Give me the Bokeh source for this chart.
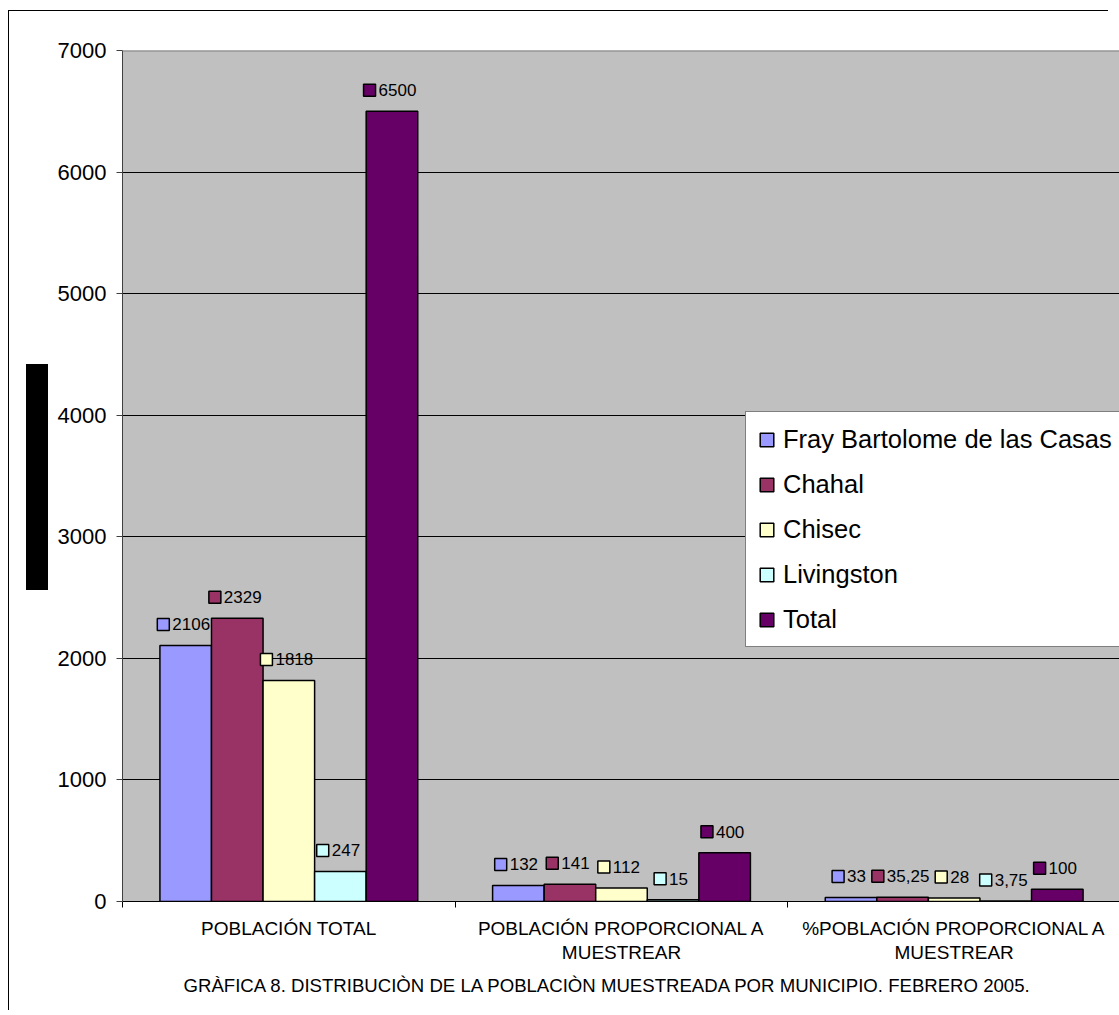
from bokeh.plotting import figure
from bokeh.models import (Range1d, FixedTicker, Legend, LegendItem, Title,
                          Span, ColumnDataSource, InlineStyleSheet)
from bokeh.core.properties import value
from bokeh.embed import file_html
from bokeh.resources import INLINE

# ---------------- data ----------------
categories = ["POBLACIÓN TOTAL",
              "POBLACIÓN PROPORCIONAL A\nMUESTREAR",
              "%POBLACIÓN PROPORCIONAL A\nMUESTREAR"]
series_names = ["Fray Bartolome de las Casas", "Chahal", "Chisec", "Livingston", "Total"]
series_colors = ["#9999FF", "#993366", "#FFFFCC", "#CCFFFF", "#660066"]
fray = [2106, 132, 33]
chahal = [2329, 141, 35.25]
chisec = [1818, 112, 28]
livingston = [247, 15, 3.75]
total = [6500, 400, 100]
y_ticks = [0, 1000, 2000, 3000, 4000, 5000, 6000, 7000]
caption = "GRÀFICA 8. DISTRIBUCIÒN DE LA POBLACIÒN MUESTREADA POR MUNICIPIO. FEBRERO 2005."

series_values = [fray, chahal, chisec, livingston, total]

# ---------------- layout ----------------
W, H = 1119, 1015
LEFT, TOP, BOTTOM = 122, 50, 114
frame_w = W - LEFT
frame_h = H - TOP - BOTTOM
x_end = 2.997
y_end = 7000
px_x = x_end / frame_w
px_y = y_end / frame_h
BAR_W = 0.155
FONT = "Liberation Sans"

p = figure(width=W, height=H, x_range=Range1d(0, x_end), y_range=Range1d(0, y_end),
           output_backend="svg", toolbar_location=None,
           min_border_left=LEFT, min_border_top=TOP, min_border_bottom=BOTTOM, min_border_right=0,
           background_fill_color="#C0C0C0", border_fill_color="white", outline_line_color=None)

# grid
p.xgrid.visible = False
p.ygrid.ticker = FixedTicker(ticks=y_ticks)
p.ygrid.grid_line_color = "black"
p.ygrid.grid_line_width = 1

# y axis
p.yaxis.ticker = FixedTicker(ticks=y_ticks)
p.yaxis.major_label_text_font = FONT
p.yaxis.major_label_text_font_size = "22px"
p.yaxis.major_label_text_color = "black"
p.yaxis.major_tick_out = 6
p.yaxis.major_tick_in = 0
p.yaxis.minor_tick_line_color = None
p.yaxis.major_label_standoff = 10
p.yaxis.axis_line_color = "#404040"
p.yaxis.major_tick_line_color = "#404040"

# x axis: category names at group centres, tick marks at group boundaries
centres = [g + 0.5 for g in range(len(categories))]
bounds = [g for g in range(len(categories) + 1)]
p.xaxis.ticker = FixedTicker(ticks=centres, minor_ticks=bounds)
p.xaxis.major_label_overrides = {c: cat for c, cat in zip(centres, categories)}
p.xaxis.major_tick_line_color = None
p.xaxis.major_tick_out = 0
p.xaxis.major_tick_in = 0
p.xaxis.minor_tick_out = 6
p.xaxis.minor_tick_in = 0
p.xaxis.minor_tick_line_color = "black"
p.xaxis.axis_line_color = "black"
p.xaxis.major_label_standoff = 10
p.xaxis.major_label_text_font = FONT
p.xaxis.major_label_text_font_size = "19px"
p.xaxis.major_label_text_color = "black"
p.xaxis.major_label_text_line_height = 1.15

p.add_layout(Span(location=y_end, dimension="width", line_color="#808080", line_width=2))

# bars
renderers = []
for i, (vals, col) in enumerate(zip(series_values, series_colors)):
    xs = [g + 0.5 + (i - 2) * BAR_W for g in range(len(categories))]
    src = ColumnDataSource(dict(x=xs, top=vals))
    r = p.vbar(x="x", top="top", width=BAR_W, source=src, fill_color=col,
               line_color="black", line_width=1.5)
    renderers.append(r)

# value labels (square key + number)
def fmt(v):
    return ("%g" % v).replace(".", ",")

def text_width(s, size=17):
    return sum(0.278 if ch in ",." else 0.556 for ch in s) * size

lab = dict(xs=[], xt=[], y=[], text=[], color=[])
for i, (vals, col) in enumerate(zip(series_values, series_colors)):
    for g, v in enumerate(vals):
        cx = g + 0.5 + (i - 2) * BAR_W
        t = fmt(v)
        wblock = 12 + 3 + text_width(t)
        left_px = -wblock / 2 - 2
        lab["xs"].append(cx + (left_px + 6) * px_x)
        lab["xt"].append(cx + (left_px + 15) * px_x)
        lab["y"].append(v + 21 * px_y)
        lab["text"].append(t)
        lab["color"].append(col)
lsrc = ColumnDataSource(lab)
p.scatter(x="xs", y="y", marker="square", size=12, fill_color="color",
          line_color="black", line_width=1.5, source=lsrc)
p.text(x="xt", y="y", text="text", source=lsrc, text_font=value(FONT),
       text_font_size="17px", text_baseline="middle", text_align="left", text_color="black")

# caption below the axis
p.add_layout(Title(text=caption, align="left", offset=61, text_font=FONT, standoff=14,
                   text_font_size="18.6px", text_font_style="normal", text_color="black"), "below")

# legend
legend = Legend(items=[LegendItem(label=n, renderers=[r]) for n, r in zip(series_names, renderers)],
                location=(623, 254), label_text_font=FONT, label_text_font_size="25.5px",
                label_text_color="black",
                glyph_width=17, glyph_height=17, label_height=30, label_standoff=8,
                spacing=15, padding=12, margin=0, border_line_color="black", border_line_width=1,
                background_fill_color="white", background_fill_alpha=1)
p.add_layout(legend)

# outer chart border and the black block on the left (drawn over the canvas)
p.stylesheets = [InlineStyleSheet(css="""
:host { position: relative; }
:host::before { content: ""; position: absolute; left: 26px; top: 364px; width: 22px; height: 226px;
  background: black; z-index: 10; pointer-events: none; }
:host::after { content: ""; position: absolute; left: 8px; top: 10px; width: 1100px; height: 1000px;
  box-sizing: border-box; border-left: 1px solid black; border-top: 1px solid black;
  z-index: 10; pointer-events: none; }
""")]

open("out.html", "w").write(file_html(p, INLINE))
